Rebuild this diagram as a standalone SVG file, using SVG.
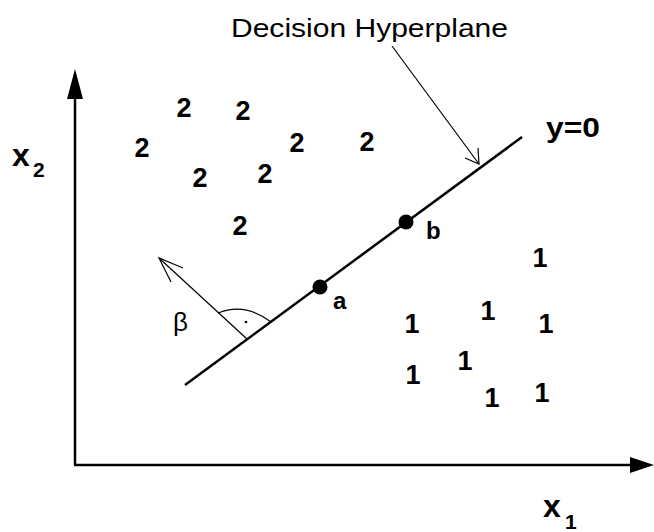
<svg xmlns="http://www.w3.org/2000/svg" width="654" height="532" viewBox="0 0 654 532">
<style>
.b{font-family:"Liberation Sans",Arial,sans-serif;font-weight:bold;fill:#000}
.n{font-family:"Liberation Sans",Arial,sans-serif;fill:#000}
.d{font-size:27px;text-anchor:middle}
.thick{stroke:#000;stroke-width:2.5;fill:none}
.thin{stroke:#000;stroke-width:1.2;fill:none}
</style>
<rect width="654" height="532" fill="#fff"/>
<g id="axes">
<line class="thick" x1="75" y1="465" x2="75" y2="96"/>
<polygon points="75,69 67,99 83,99" fill="#000"/>
<line class="thick" x1="74" y1="465" x2="632" y2="465"/>
<polygon points="654,465 630,457 630,473" fill="#000"/>
<text class="b" x="12" y="166" font-size="32">x</text>
<text class="b" x="33" y="177" font-size="21">2</text>
<text class="b" x="543" y="517" font-size="32">x</text>
<text class="b" x="565" y="529" font-size="21">1</text>
</g>
<g id="hyperplane">
<line class="thick" x1="185" y1="385" x2="522" y2="137"/>
<text class="b" x="546" y="137" font-size="28" textLength="54" lengthAdjust="spacingAndGlyphs">y=0</text>
</g>
<g id="label">
<text class="n" x="231" y="37" font-size="25" textLength="277" lengthAdjust="spacingAndGlyphs">Decision Hyperplane</text>
</g>
<g id="connectors">
<line class="thin" x1="392" y1="46" x2="479" y2="164"/>
<polyline class="thin" points="465,158 479,164 478,148"/>
</g>
<g id="normal">
<line class="thin" x1="247" y1="339" x2="159" y2="258"/>
<polyline class="thin" points="183,268 159,258 171,282"/>
<path class="thin" d="M218,313 Q245,302 271,322"/>
<circle cx="246" cy="322" r="1.3" fill="#000"/>
<text class="n" x="173" y="331" font-size="26">β</text>
</g>
<g id="point-a">
<circle cx="320" cy="287" r="7.5" fill="#000"/>
<text class="b" x="333" y="309" font-size="24">a</text>
</g>
<g id="point-b">
<circle cx="406" cy="222" r="7.5" fill="#000"/>
<text class="b" x="426" y="239" font-size="24">b</text>
</g>
<g id="class-2">
<text class="b d" x="184" y="117">2</text>
<text class="b d" x="243" y="120">2</text>
<text class="b d" x="142" y="157">2</text>
<text class="b d" x="297" y="152">2</text>
<text class="b d" x="367" y="151">2</text>
<text class="b d" x="200" y="187">2</text>
<text class="b d" x="265" y="183">2</text>
<text class="b d" x="240" y="235">2</text>
</g>
<g id="class-1">
<text class="b d" x="540" y="267">1</text>
<text class="b d" x="488" y="320">1</text>
<text class="b d" x="412" y="333">1</text>
<text class="b d" x="546" y="333">1</text>
<text class="b d" x="465" y="370">1</text>
<text class="b d" x="413" y="384">1</text>
<text class="b d" x="492" y="407">1</text>
<text class="b d" x="542" y="402">1</text>
</g>
</svg>
